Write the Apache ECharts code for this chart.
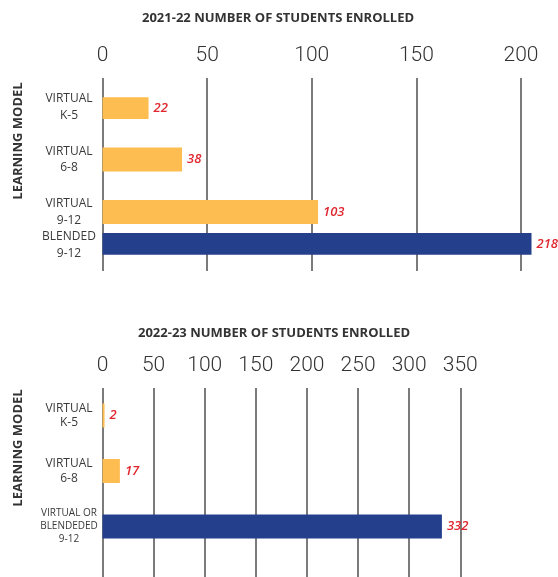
<!DOCTYPE html>
<html>
<head>
<meta charset="utf-8">
<script src="https://cdn.jsdelivr.net/npm/echarts@6/dist/echarts.min.js"></script>
<style>
  html, body { margin: 0; background: #fff; }
  #main { width: 558px; height: 577px; }
</style>
</head>
<body>
<div id="main"></div>
<script>
// 2021-22
const grades1 = ['K-5', '6-8', '9-12'];
const virtual1 = [22, 38, 103];
const blended1 = [null, null, 218];
// 2022-23
const grades2 = ['K-5', '6-8', '9-12'];
const virtual2 = [2, 17, null];
const combined2 = [null, null, 332];

const FONT = '"Open Sans", sans-serif';
const ORANGE = '#fdbd50';
const NAVY = '#243f8c';
const RED = '#e0262e';
const GRID_LINE = { color: '#5a5a5a', width: 1.6 };

const chart = echarts.init(document.getElementById('main'));

// shared axis pieces
const tickAxis = (grid, max, margin) => ({
  gridIndex: grid,
  type: 'value',
  position: 'top',
  min: 0,
  max: max,
  interval: 50,
  axisLine: { show: false },
  axisTick: { show: false },
  axisLabel: { margin: margin, fontSize: 21, fontWeight: 300, color: '#333', fontFamily: 'Roboto, sans-serif' },
  splitLine: { show: true, lineStyle: GRID_LINE }
});

const valueLabel = {
  show: true,
  position: 'right',
  distance: 5,
  color: RED,
  fontSize: 13,
  fontStyle: 'italic',
  fontWeight: 600,
  fontFamily: FONT
};

const catLabel = {
  interval: 0,
  margin: 33.5,
  align: 'center',
  color: '#3a3a3a',
  fontSize: 12,
  fontFamily: FONT
};

const titleStyle = { fontSize: 13, fontWeight: 'bold', color: '#333', fontFamily: FONT };
const nameStyle = { text: 'LEARNING MODEL', fontSize: 13, fontWeight: 'bold', fill: '#333', fontFamily: FONT,
                    align: 'center', verticalAlign: 'middle' };

const option = {
  animation: false,
  title: [
    { text: '2021-22 NUMBER OF STUDENTS ENROLLED', left: 137, top: 7, textStyle: titleStyle },
    { text: '2022-23 NUMBER OF STUDENTS ENROLLED', left: 133, top: 322, textStyle: titleStyle }
  ],
  graphic: [
    { type: 'text', x: 18, y: 141, rotation: Math.PI / 2, style: nameStyle },
    { type: 'text', x: 18, y: 448, rotation: Math.PI / 2, style: nameStyle }
  ],
  grid: [
    { left: 102.5, top: 78, width: 418.5, height: 193 },      // 2021-22 ticks and lines
    { left: 102.5, top: 97.25, width: 429, height: 157.5 },   // 2021-22 bars
    { left: 102.5, top: 388, width: 357.8, height: 195 },     // 2022-23 ticks and lines
    { left: 102.5, top: 387.75, width: 357.8, height: 166.5 } // 2022-23 bars
  ],
  xAxis: [
    tickAxis(0, 200, 12),
    { gridIndex: 1, type: 'value', min: 0, max: 205, show: false },
    tickAxis(2, 350, 12),
    { gridIndex: 3, type: 'value', min: 0, max: 350, show: false }
  ],
  yAxis: [
    { gridIndex: 0, type: 'value', show: false },
    {
      gridIndex: 1, type: 'category', inverse: true, data: grades1,
      axisLine: { show: false }, axisTick: { show: false },
      axisLabel: Object.assign({}, catLabel, {
        lineHeight: 16.5,
        formatter: (g, i) => blended1[i] != null
          ? 'VIRTUAL\n' + g + '\nBLENDED\n' + g
          : 'VIRTUAL\n' + g + '\n \n '
      })
    },
    { gridIndex: 2, type: 'value', show: false },
    {
      gridIndex: 3, type: 'category', inverse: true, data: grades2,
      axisLine: { show: false }, axisTick: { show: false },
      axisLabel: Object.assign({}, catLabel, {
        lineHeight: 14.5,
        formatter: (g, i) => virtual2[i] != null
          ? 'VIRTUAL\n' + g
          : '{s|VIRTUAL OR}\n{s|BLENDEDED}\n{s|' + g + '}',
        rich: { s: { fontSize: 10, lineHeight: 13, color: '#3a3a3a', fontFamily: FONT } }
      })
    }
  ],
  series: [
    { name: 'Virtual', type: 'bar', xAxisIndex: 1, yAxisIndex: 1, data: virtual1,
      barWidth: 24, barGap: '37.5%', itemStyle: { color: ORANGE }, label: valueLabel },
    { name: 'Blended', type: 'bar', xAxisIndex: 1, yAxisIndex: 1, data: blended1,
      barWidth: 24, barGap: '37.5%', itemStyle: { color: NAVY }, label: valueLabel },
    { name: 'Virtual', type: 'bar', xAxisIndex: 3, yAxisIndex: 3, data: virtual2,
      barWidth: 24, barGap: '-100%', itemStyle: { color: ORANGE }, label: valueLabel },
    { name: 'Virtual or Blended', type: 'bar', xAxisIndex: 3, yAxisIndex: 3, data: combined2,
      barWidth: 24, barGap: '-100%', itemStyle: { color: NAVY }, label: valueLabel }
  ]
};

chart.setOption(option);
</script>
</body>
</html>
